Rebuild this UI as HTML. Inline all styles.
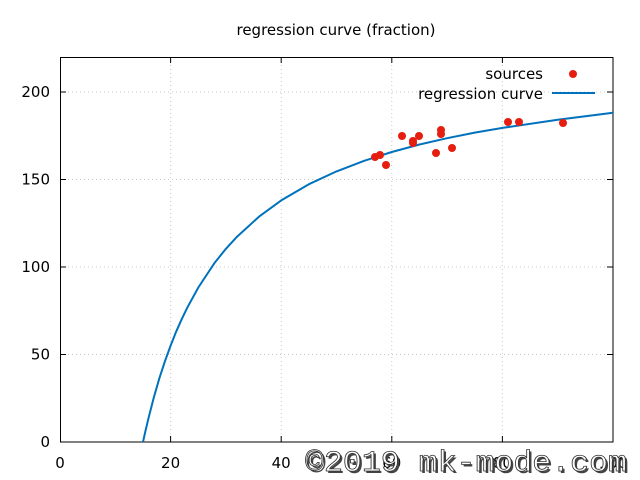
<!DOCTYPE html>
<html><head><meta charset="utf-8"><style>
html,body{margin:0;padding:0;background:#fff;}
svg{display:block;font-family:"DejaVu Sans","Liberation Sans",sans-serif;}
</style></head><body>
<svg width="640" height="480" viewBox="0 0 640 480" xmlns="http://www.w3.org/2000/svg">
<rect width="640" height="480" fill="#fff"/>
<g stroke="#c8c8c8" stroke-width="1" stroke-dasharray="1,3">
<line x1="170.6" y1="57" x2="170.6" y2="442"/>
<line x1="281.2" y1="57" x2="281.2" y2="442"/>
<line x1="391.8" y1="57" x2="391.8" y2="442"/>
<line x1="502.4" y1="57" x2="502.4" y2="442"/>
<line x1="60" y1="354.5" x2="613" y2="354.5"/>
<line x1="60" y1="267" x2="613" y2="267"/>
<line x1="60" y1="179.5" x2="613" y2="179.5"/>
<line x1="60" y1="92" x2="613" y2="92"/>
</g>
<g stroke="#000" stroke-width="1">
<rect x="60.5" y="57.5" width="552.5" height="384.5" fill="none"/>
<path d="M170.6 442v-6M281.2 442v-6M391.8 442v-6M502.4 442v-6M170.6 57v6M281.2 57v6M391.8 57v6M502.4 57v6M60 354.5h6M60 267h6M60 179.5h6M60 92h6M613 354.5h-6M613 267h-6M613 179.5h-6M613 92h-6"/>
</g>
<g font-size="15" fill="#000" text-anchor="middle">
<text x="336" y="35">regression curve (fraction)</text>
<text x="60" y="468">0</text><text x="170.6" y="468">20</text><text x="281.2" y="468">40</text>
<text x="391.8" y="468">60</text><text x="502.4" y="468">80</text><text x="613" y="468">100</text>
</g>
<g font-size="15" fill="#000" text-anchor="end">
<text x="50" y="447">0</text><text x="50" y="359.5">50</text><text x="50" y="272">100</text>
<text x="50" y="184.5">150</text><text x="50" y="97">200</text>
<text x="543" y="79">sources</text><text x="543" y="99">regression curve</text>
</g>
<line x1="552" y1="93" x2="595" y2="93" stroke="#0072bd" stroke-width="2"/>
<circle cx="573" cy="74" r="4" fill="#e51e10"/>
<path d="M143 442L145.7 429.9L148.5 418.2L154 396.8L159.5 377.8L165.1 360.8L170.6 345.6L176.1 331.8L181.7 319.2L187.2 307.8L198.3 287.5L214.8 262.6L225.9 248.8L237 236.7L259.1 216.6L281.2 200.4L308.9 184.2L336.5 171.4L364.2 160.8L391.8 152L419.5 144.5L447.1 138.2L474.8 132.6L502.4 127.9L557.7 119.8L613 112.7" fill="none" stroke="#0072bd" stroke-width="2" stroke-linejoin="round"/>
<g fill="#e51e10">
<circle cx="375" cy="157" r="4"/><circle cx="380" cy="155" r="4"/><circle cx="386" cy="165" r="4"/>
<circle cx="402" cy="136" r="4"/><circle cx="413" cy="141" r="4"/><circle cx="413" cy="143" r="4"/>
<circle cx="419" cy="136" r="4"/><circle cx="436" cy="153" r="4"/><circle cx="441" cy="130" r="4"/>
<circle cx="441" cy="134" r="4"/><circle cx="452" cy="148" r="4"/><circle cx="508" cy="122" r="4"/>
<circle cx="519" cy="122" r="4"/><circle cx="563" cy="123" r="4"/>
</g>
<g font-family="Liberation Mono, monospace" font-size="30">
<text x="307" y="473" fill="#444" textLength="322" lengthAdjust="spacingAndGlyphs">©2019 mk-mode.com</text>
<text x="305" y="471" fill="#fff" stroke="#333" stroke-width="0.8" textLength="322" lengthAdjust="spacingAndGlyphs">©2019 mk-mode.com</text>
</g>
</svg>
</body></html>
